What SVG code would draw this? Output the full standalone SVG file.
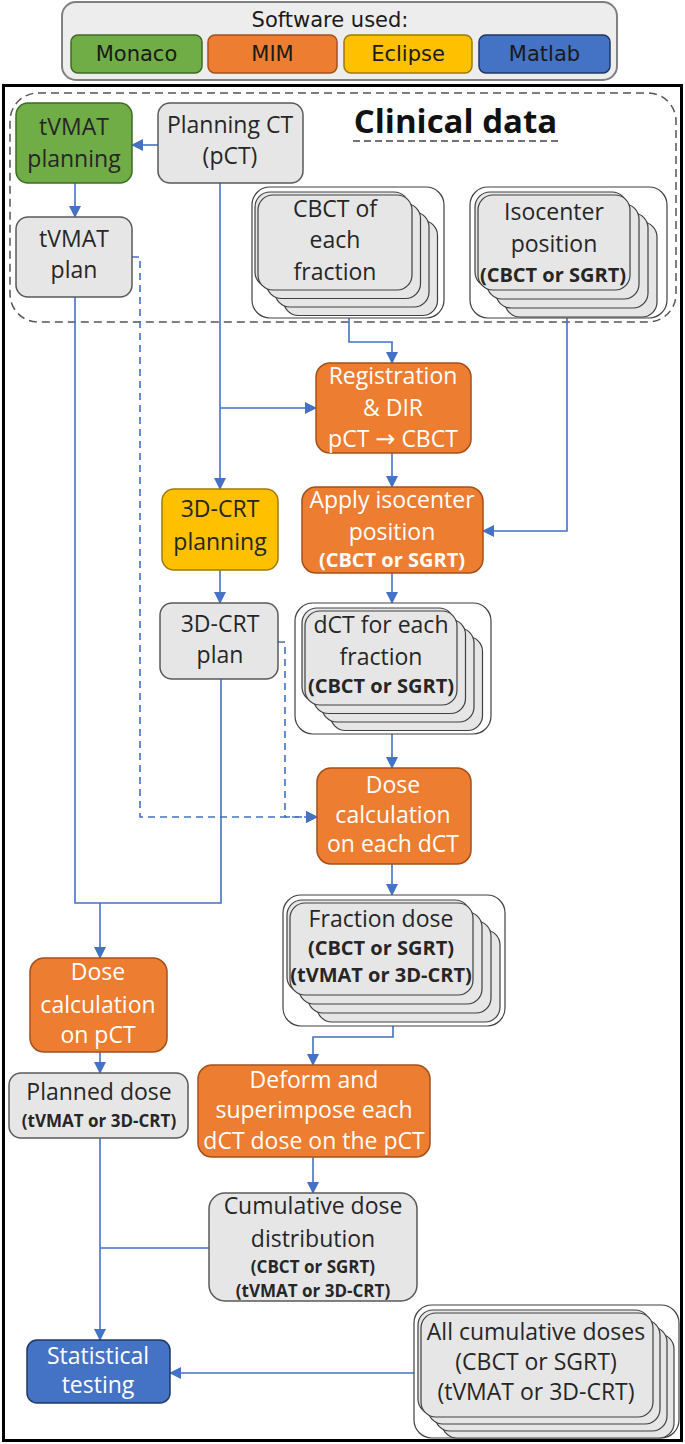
<svg xmlns="http://www.w3.org/2000/svg" width="685" height="1444" viewBox="0 0 685 1444">
<defs>
<marker id="ah" markerWidth="12" markerHeight="12" refX="11" refY="6" orient="auto" markerUnits="userSpaceOnUse">
<path d="M0,0 L12,6 L0,12 Z" fill="#4472C4"/>
</marker>
<style>
.t{font-family:"Open Sans","Liberation Sans",sans-serif;font-size:23px;text-anchor:middle;fill:#262626}
.w{fill:#ffffff}
.b{font-weight:bold;font-size:20px}
.s{font-weight:bold;font-size:17px}
.lg{font-family:"DejaVu Sans",sans-serif;font-size:21px;text-anchor:middle;fill:#1a1a1a}
.gray{fill:#E7E6E6;stroke:#595959;stroke-width:1.5}
.org{fill:#ED7D31;stroke:#A5501A;stroke-width:1.5}
.grn{fill:#70AD47;stroke:#3E6B24;stroke-width:1.5}
.yel{fill:#FFC000;stroke:#A07A00;stroke-width:1.5}
.blu{fill:#4472C4;stroke:#1F3864;stroke-width:1.5}
.card{fill:#E7E6E6;stroke:#404040;stroke-width:1.2}
.cont{fill:#ffffff;stroke:#404040;stroke-width:1.2}
.c{fill:none;stroke:#4472C4;stroke-width:1.6}
.d{fill:none;stroke:#4472C4;stroke-width:1.6;stroke-dasharray:7 5}
</style>
</defs>

<g id="legend">
<rect x="62" y="2" width="555" height="78" rx="14" fill="#EDEDED" stroke="#7F7F7F" stroke-width="2"/>
<text class="lg" x="330" y="27" font-size="22">Software used:</text>
<rect x="71" y="35" width="131" height="38" rx="7" class="grn"/>
<text class="lg" x="136.5" y="61">Monaco</text>
<rect x="208" y="35" width="129" height="38" rx="7" class="org"/>
<text class="lg w" x="272.5" y="61">MIM</text>
<rect x="344" y="35" width="128" height="38" rx="7" class="yel"/>
<text class="lg" x="408" y="61">Eclipse</text>
<rect x="479" y="35" width="131" height="38" rx="7" class="blu"/>
<text class="lg w" x="544.5" y="61">Matlab</text>
</g>

<g id="frame">
<rect x="3.5" y="85.5" width="678" height="1355" fill="#ffffff" stroke="#000000" stroke-width="3"/>
</g>

<g id="clinical-data">
<rect x="10" y="93" width="666" height="229" rx="28" fill="none" stroke="#555555" stroke-width="1.5" stroke-dasharray="8 5"/>
<text x="455.5" y="133" font-family="'Open Sans','Liberation Sans',sans-serif" font-size="33" font-weight="bold" text-anchor="middle" fill="#111111">Clinical data</text>
<line x1="353" y1="141" x2="558" y2="141" stroke="#444444" stroke-width="1.5" stroke-dasharray="7 4"/>
</g>

<g id="connectors">
<path class="c" d="M158,145 H132" marker-end="url(#ah)"/>
<path class="c" d="M75,183 V217" marker-end="url(#ah)"/>
<path class="d" d="M132,257 H140 V817 H317" marker-end="url(#ah)"/>
<path class="c" d="M220,183 V489" marker-end="url(#ah)"/>
<path class="c" d="M220,408 H316" marker-end="url(#ah)"/>
<path class="c" d="M349,318 V342 H392 V363" marker-end="url(#ah)"/>
<path class="c" d="M392,453 V487" marker-end="url(#ah)"/>
<path class="c" d="M567,318 V531 H483" marker-end="url(#ah)"/>
<path class="c" d="M220,570 V603" marker-end="url(#ah)"/>
<path class="c" d="M392,573 V603" marker-end="url(#ah)"/>
<path class="d" d="M278,642 H285 V817 H317" marker-end="url(#ah)"/>
<path class="c" d="M392,734 V768" marker-end="url(#ah)"/>
<path class="c" d="M392,864 V895" marker-end="url(#ah)"/>
<path class="c" d="M75,297 V903 H221 V679"/>
<path class="c" d="M100,903 V958" marker-end="url(#ah)"/>
<path class="c" d="M100,1052 V1073" marker-end="url(#ah)"/>
<path class="c" d="M393,1026 V1037 H313 V1065" marker-end="url(#ah)"/>
<path class="c" d="M313,1157 V1193" marker-end="url(#ah)"/>
<path class="c" d="M100,1138 V1340" marker-end="url(#ah)"/>
<path class="c" d="M209,1248 H100"/>
<path class="c" d="M414,1373 H170" marker-end="url(#ah)"/>
</g>

<g id="tvmat-planning">
<rect x="16" y="103" width="116" height="80" rx="12" class="grn"/>
<text class="t" x="74" y="135">tVMAT</text>
<text class="t" x="74" y="167">planning</text>
</g>

<g id="planning-ct">
<rect x="158" y="103" width="145" height="80" rx="12" class="gray"/>
<text class="t" x="230" y="133">Planning CT</text>
<text class="t" x="230" y="164">(pCT)</text>
</g>

<g id="tvmat-plan">
<rect x="16" y="217" width="116" height="80" rx="12" class="gray"/>
<text class="t" x="74" y="247">tVMAT</text>
<text class="t" x="74" y="278">plan</text>
</g>

<g id="cbct-stack">
<rect x="252" y="187" width="192" height="131" rx="18" class="cont"/>
<rect x="283.5" y="220.5" width="154" height="95" rx="15" class="card"/>
<rect x="275" y="212" width="154" height="95" rx="15" class="card"/>
<rect x="266.5" y="203.5" width="154" height="95" rx="15" class="card"/>
<rect x="255" y="192" width="154" height="95" rx="15" class="card"/>
<rect x="258" y="195" width="154" height="95" rx="15" class="card"/>
<text class="t" x="335" y="217">CBCT of</text>
<text class="t" x="335" y="248">each</text>
<text class="t" x="335" y="280">fraction</text>
</g>

<g id="isocenter-stack">
<rect x="470" y="187" width="197" height="131" rx="18" class="cont"/>
<rect x="505" y="222" width="152" height="95" rx="15" class="card"/>
<rect x="496" y="213" width="152" height="95" rx="15" class="card"/>
<rect x="487" y="204" width="152" height="95" rx="15" class="card"/>
<rect x="475" y="192" width="152" height="95" rx="15" class="card"/>
<rect x="478" y="195" width="152" height="95" rx="15" class="card"/>
<text class="t" x="554" y="220">Isocenter</text>
<text class="t" x="554" y="252">position</text>
<text class="t b" x="553" y="282">(CBCT or SGRT)</text>
</g>

<g id="registration">
<rect x="316" y="363" width="155" height="90" rx="14" class="org"/>
<text class="t w" x="393" y="384">Registration</text>
<text class="t w" x="393" y="416">&amp; DIR</text>
<text class="t w" x="393" y="447">pCT <tspan font-family="'DejaVu Sans',sans-serif" font-size="24">→</tspan> CBCT</text>
</g>

<g id="apply-isocenter">
<rect x="302" y="487" width="181" height="86" rx="14" class="org"/>
<text class="t w" x="392" y="508">Apply isocenter</text>
<text class="t w" x="392" y="540">position</text>
<text class="t b w" x="392" y="567">(CBCT or SGRT)</text>
</g>

<g id="3dcrt-planning">
<rect x="162" y="489" width="116" height="81" rx="12" class="yel"/>
<text class="t" x="220" y="517">3D-CRT</text>
<text class="t" x="220" y="550">planning</text>
</g>

<g id="3dcrt-plan">
<rect x="160" y="603" width="118" height="76" rx="12" class="gray"/>
<text class="t" x="220" y="632">3D-CRT</text>
<text class="t" x="220" y="663">plan</text>
</g>

<g id="dct-stack">
<rect x="295" y="603" width="196" height="131" rx="18" class="cont"/>
<rect x="330.5" y="636.5" width="152" height="94" rx="15" class="card"/>
<rect x="322" y="628" width="152" height="94" rx="15" class="card"/>
<rect x="313.5" y="619.5" width="152" height="94" rx="15" class="card"/>
<rect x="302" y="608" width="152" height="94" rx="15" class="card"/>
<rect x="305" y="611" width="152" height="94" rx="15" class="card"/>
<text class="t" x="381" y="633">dCT for each</text>
<text class="t" x="381" y="665">fraction</text>
<text class="t b" x="381" y="693">(CBCT or SGRT)</text>
</g>

<g id="dose-calc-dct">
<rect x="317" y="768" width="154" height="96" rx="14" class="org"/>
<text class="t w" x="393" y="793">Dose</text>
<text class="t w" x="393" y="823">calculation</text>
<text class="t w" x="393" y="852">on each dCT</text>
</g>

<g id="fraction-stack">
<rect x="283" y="895" width="222" height="131" rx="18" class="cont"/>
<rect x="317" y="930" width="183" height="92" rx="15" class="card"/>
<rect x="308" y="921" width="183" height="92" rx="15" class="card"/>
<rect x="299" y="912" width="183" height="92" rx="15" class="card"/>
<rect x="287" y="900" width="183" height="92" rx="15" class="card"/>
<rect x="290" y="903" width="183" height="92" rx="15" class="card"/>
<text class="t" x="381" y="927">Fraction dose</text>
<text class="t b" x="381" y="955">(CBCT or SGRT)</text>
<text class="t b" x="381" y="982">(tVMAT or 3D-CRT)</text>
</g>

<g id="dose-calc-pct">
<rect x="30" y="958" width="137" height="94" rx="14" class="org"/>
<text class="t w" x="98" y="980">Dose</text>
<text class="t w" x="98" y="1013">calculation</text>
<text class="t w" x="98" y="1043">on pCT</text>
</g>

<g id="planned-dose">
<rect x="9" y="1073" width="179" height="65" rx="12" class="gray"/>
<text class="t" x="99" y="1100">Planned dose</text>
<text class="t s" x="99" y="1127">(tVMAT or 3D-CRT)</text>
</g>

<g id="deform">
<rect x="198" y="1065" width="232" height="92" rx="14" class="org"/>
<text class="t w" x="314" y="1088" font-size="22">Deform and</text>
<text class="t w" x="314" y="1118" font-size="22">superimpose each</text>
<text class="t w" x="314" y="1149" font-size="22">dCT dose on the pCT</text>
</g>

<g id="cumulative">
<rect x="209" y="1193" width="208" height="108" rx="16" class="gray"/>
<text class="t" x="313" y="1214">Cumulative dose</text>
<text class="t" x="313" y="1247">distribution</text>
<text class="t s" x="313" y="1273">(CBCT or SGRT)</text>
<text class="t s" x="313" y="1297">(tVMAT or 3D-CRT)</text>
</g>

<g id="all-cumulative-stack">
<rect x="414" y="1305" width="265" height="133" rx="18" class="cont"/>
<rect x="442" y="1334" width="232" height="104" rx="15" class="card"/>
<rect x="435" y="1327" width="232" height="104" rx="15" class="card"/>
<rect x="428" y="1320" width="232" height="104" rx="15" class="card"/>
<rect x="418" y="1310" width="232" height="104" rx="15" class="card"/>
<rect x="421" y="1313" width="232" height="104" rx="15" class="card"/>
<text class="t" x="536" y="1340">All cumulative doses</text>
<text class="t" x="536" y="1370" font-size="22">(CBCT or SGRT)</text>
<text class="t" x="536" y="1400" font-size="22">(tVMAT or 3D-CRT)</text>
</g>

<g id="statistical-testing">
<rect x="27" y="1340" width="143" height="63" rx="10" class="blu"/>
<text class="t w" x="98" y="1364">Statistical</text>
<text class="t w" x="98" y="1393">testing</text>
</g>
</svg>
